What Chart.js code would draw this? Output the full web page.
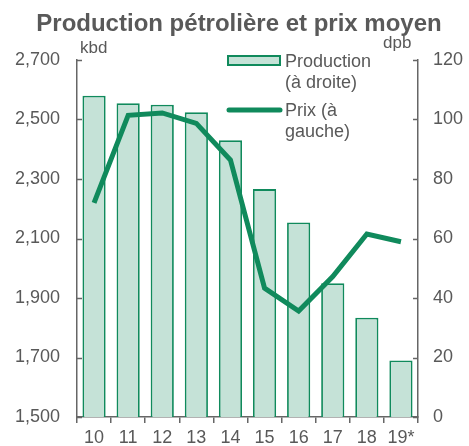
<!DOCTYPE html>
<html>
<head>
<meta charset="utf-8">
<script src="https://cdn.jsdelivr.net/npm/chart.js@4.4.0/dist/chart.umd.min.js"></script>
<style>
  html, body { margin: 0; padding: 0; background: #fff; }
  #wrap { width: 469px; height: 446px; position: relative; }
</style>
</head>
<body>
<div id="wrap"><canvas id="chartCanvas" width="469" height="446"></canvas></div>
<script>
// Years on the x axis
const years = ['10', '11', '12', '13', '14', '15', '16', '17', '18', '19*'];
// Oil production, kbd (left axis)
const production = [2580, 2555, 2550, 2524, 2430, 2266, 2154, 1950, 1834, 1690];
// Average price, dpb (right axis)
const price = [72, 101.4, 102.2, 98.7, 86.4, 43.3, 35.6, 47.2, 61.5, 58.9];
// Tick labels
const leftTicks = [1500, 1700, 1900, 2100, 2300, 2500, 2700];
const rightTicks = [0, 20, 40, 60, 80, 100, 120];

const green = '#108a5c';
const lightGreen = '#c5e2d7';
const grey = '#666666';
const textGrey = '#595959';
const fontFamily = '"Liberation Sans", Arial, sans-serif';

// Title, unit labels, inward ticks and the legend are drawn here
const decorations = {
    id: 'decorations',
    afterDraw(chart) {
        const ctx = chart.ctx;
        const area = chart.chartArea;
        const yl = chart.scales.y;
        const yr = chart.scales.y1;
        ctx.save();

        // inward ticks on both vertical axes
        ctx.strokeStyle = grey;
        ctx.lineWidth = 1.5;
        leftTicks.forEach((v) => {
            const p = Math.round(yl.getPixelForValue(v)) + 0.5;
            ctx.beginPath();
            ctx.moveTo(area.left, p);
            ctx.lineTo(area.left + 5, p);
            ctx.stroke();
        });
        rightTicks.forEach((v) => {
            const p = Math.round(yr.getPixelForValue(v)) + 0.5;
            ctx.beginPath();
            ctx.moveTo(area.right, p);
            ctx.lineTo(area.right - 5, p);
            ctx.stroke();
        });

        // title
        ctx.fillStyle = textGrey;
        ctx.font = 'bold 24px ' + fontFamily;
        ctx.textAlign = 'center';
        ctx.textBaseline = 'alphabetic';
        ctx.fillText('Production pétrolière et prix moyen', 239, 31);

        // units
        ctx.font = '17px ' + fontFamily;
        ctx.textAlign = 'left';
        ctx.fillText('kbd', 80, 53);
        ctx.fillText('dpb', 383, 48);

        // legend
        ctx.fillStyle = lightGreen;
        ctx.strokeStyle = green;
        ctx.lineWidth = 2;
        ctx.fillRect(228, 56, 52, 9);
        ctx.strokeRect(228, 56, 52, 9);

        ctx.strokeStyle = green;
        ctx.lineWidth = 5;
        ctx.lineCap = 'round';
        ctx.beginPath();
        ctx.moveTo(229, 110);
        ctx.lineTo(280, 110);
        ctx.stroke();

        ctx.fillStyle = textGrey;
        ctx.font = '18px ' + fontFamily;
        ctx.fillText('Production', 285, 67);
        ctx.fillText('(à droite)', 285, 88);
        ctx.fillText('Prix (à', 285, 116);
        ctx.fillText('gauche)', 285, 137);

        ctx.restore();
    }
};

const ctx = document.getElementById('chartCanvas');

new Chart(ctx, {
    data: {
        labels: years,
        datasets: [
            {
                type: 'line',
                label: 'Prix (à gauche)',
                data: price,
                yAxisID: 'y1',
                borderColor: green,
                borderWidth: 5,
                pointRadius: 0,
                tension: 0,
                order: 0
            },
            {
                type: 'bar',
                label: 'Production (à droite)',
                data: production,
                yAxisID: 'y',
                backgroundColor: lightGreen,
                borderColor: green,
                borderWidth: 1.8,
                barPercentage: 0.68,
                categoryPercentage: 1,
                order: 1
            }
        ]
    },
    options: {
        responsive: false,
        animation: false,
        layout: { padding: { top: 60, left: 0, right: 0, bottom: 0 } },
        plugins: {
            legend: { display: false },
            tooltip: { enabled: false },
            title: { display: false }
        },
        scales: {
            x: {
                offset: true,
                grid: {
                    display: true,
                    offset: true,
                    drawOnChartArea: false,
                    drawTicks: true,
                    tickLength: 6,
                    color: grey,
                    lineWidth: 1.5
                },
                border: { display: true, color: grey, width: 1.5 },
                ticks: {
                    color: textGrey,
                    font: { family: fontFamily, size: 18 },
                    padding: 4,
                    maxRotation: 0,
                    autoSkip: false
                },
                afterFit(scale) { scale.height = 29; }
            },
            y: {
                position: 'left',
                min: 1500,
                max: 2700,
                afterBuildTicks(scale) { scale.ticks = leftTicks.map((v) => ({ value: v })); },
                grid: { display: false, drawTicks: false },
                border: { display: true, color: grey, width: 1.5 },
                ticks: {
                    color: textGrey,
                    font: { family: fontFamily, size: 18 },
                    padding: 17,
                    callback: (v) => v.toLocaleString('en-US')
                },
                afterFit(scale) { scale.width = 77; }
            },
            y1: {
                position: 'right',
                min: 0,
                max: 120,
                afterBuildTicks(scale) { scale.ticks = rightTicks.map((v) => ({ value: v })); },
                grid: { display: false, drawTicks: false },
                border: { display: true, color: grey, width: 1.5 },
                ticks: {
                    color: textGrey,
                    font: { family: fontFamily, size: 18 },
                    padding: 15
                },
                afterFit(scale) { scale.width = 51; }
            }
        }
    },
    plugins: [decorations]
});
</script>
</body>
</html>
